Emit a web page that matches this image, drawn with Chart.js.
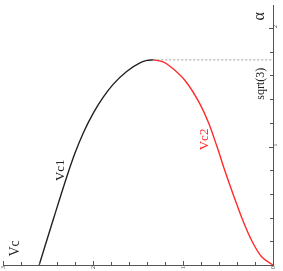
<!DOCTYPE html>
<html>
<head>
<meta charset="utf-8">
<script src="https://cdn.jsdelivr.net/npm/chart.js@4"></script>
<style>
  html, body { margin: 0; padding: 0; background: #fff; }
  #wrap { width: 283px; height: 271px; }
</style>
</head>
<body>
<div id="wrap"><canvas id="chart"></canvas></div>
<script>
// ===== DATA =====
// Vc1 branch: from alpha = 0 up to the meeting point at alpha = sqrt(3)
const vc1Values = [2.598, 2.439, 2.292, 2.2, 2.108, 1.997, 1.886, 1.774, 1.626, 1.478, 1.4, 1.33];
const vc1Alpha  = [0, 0.39, 0.743, 0.945, 1.115, 1.282, 1.417, 1.527, 1.634, 1.706, 1.727, 1.732];

// Vc2 branch: from the origin up to the same point
const vc2Values = [0, 0.126, 0.237, 0.347, 0.441, 0.53, 0.625, 0.715, 0.815, 0.975, 1.13, 1.22, 1.33];
const vc2Alpha  = [0, 0.069, 0.207, 0.399, 0.593, 0.785, 1.006, 1.198, 1.364, 1.556, 1.67, 1.715, 1.732];

// dashed guide at alpha = sqrt(3)
const guideVc    = [1.33, 0];
const guideAlpha = [1.732, 1.732];

const vcTickLabels    = ['0', '1', '2', '3'];
const alphaTickLabels = ['1', '2'];

// ===== helpers =====
function toPoints(xs, ys) {
  return xs.map(function(x, i) { return { x: x, y: ys[i] }; });
}

// text labels drawn on the plot (rotated like the whole figure)
const notes = [
  { text: 'α',       vc: 0.15,  alpha: 2.1,   size: 16, color: '#222' },
  { text: 'sqrt(3)', vc: 0.133, alpha: 1.53,  size: 12, color: '#222' },
  { text: 'Vc',      vc: 2.867, alpha: 0.14,  size: 14, color: '#222' },
  { text: 'Vc1',     vc: 2.36,  alpha: 0.8,   size: 13, color: '#222' },
  { text: 'Vc2',     vc: 0.76,  alpha: 1.06,  size: 13, color: '#ff2a2a' }
];

// small inward tick marks + rotated notes
const extrasPlugin = {
  id: 'extras',
  afterDraw: function(chart) {
    const ctx = chart.ctx;
    const xs = chart.scales.x;
    const ys = chart.scales.y;
    const area = chart.chartArea;

    ctx.save();
    ctx.strokeStyle = '#555';
    ctx.lineWidth = 1;
    // ticks every 0.2 on both axes
    for (let i = 0; i <= 15; i++) {
      const v = i * 0.2;
      const px = Math.round(xs.getPixelForValue(v)) + 0.5;
      const len = (i % 5 === 0) ? 4 : 3;
      ctx.beginPath();
      ctx.moveTo(px, area.bottom);
      ctx.lineTo(px, area.bottom - len);
      ctx.stroke();
    }
    for (let i = 0; i <= 10; i++) {
      const v = i * 0.2;
      const py = Math.round(ys.getPixelForValue(v)) + 0.5;
      const len = (i % 5 === 0) ? 4 : 3;
      ctx.beginPath();
      ctx.moveTo(area.right, py);
      ctx.lineTo(area.right - len, py);
      ctx.stroke();
    }

    // notes
    notes.forEach(function(n) {
      const px = xs.getPixelForValue(n.vc);
      const py = ys.getPixelForValue(n.alpha);
      ctx.save();
      ctx.translate(px, py);
      ctx.rotate(-Math.PI / 2);
      ctx.font = n.size + 'px "Liberation Serif", serif';
      ctx.fillStyle = n.color;
      ctx.textAlign = 'center';
      ctx.textBaseline = 'middle';
      ctx.fillText(n.text, 0, 0);
      ctx.restore();
    });
    ctx.restore();
  }
};

const ctx = document.getElementById('chart').getContext('2d');

new Chart(ctx, {
  type: 'scatter',
  data: {
    datasets: [
      {
        label: 'Vc1',
        data: toPoints(vc1Values, vc1Alpha),
        showLine: true,
        borderColor: '#222',
        borderWidth: 1.4,
        pointRadius: 0,
        cubicInterpolationMode: 'monotone',
        fill: false
      },
      {
        label: 'Vc2',
        data: toPoints(vc2Values, vc2Alpha),
        showLine: true,
        borderColor: '#ff2a2a',
        borderWidth: 1.4,
        pointRadius: 0,
        cubicInterpolationMode: 'monotone',
        fill: false
      },
      {
        label: 'sqrt(3)',
        data: toPoints(guideVc, guideAlpha),
        showLine: true,
        borderColor: '#aaa',
        borderWidth: 1.2,
        borderDash: [2, 2],
        pointRadius: 0,
        fill: false
      }
    ]
  },
  options: {
    responsive: true,
    maintainAspectRatio: false,
    animation: false,
    layout: { padding: { left: 3, top: 0, right: 0, bottom: 0 } },
    plugins: {
      legend: { display: false },
      tooltip: { enabled: false }
    },
    scales: {
      x: {
        type: 'linear',
        position: 'bottom',
        reverse: true,
        min: 0,
        max: 3,
        border: { display: true, color: '#555', width: 1 },
        grid: { display: false, drawOnChartArea: false, drawTicks: false },
        ticks: {
          stepSize: 1,
          padding: 1,
          minRotation: 90,
          maxRotation: 90,
          color: '#444',
          font: { size: 6, family: '"Liberation Serif", serif' },
          callback: function(v) {
            return vcTickLabels.includes(String(v)) ? String(v) : '';
          }
        },
        afterFit: function(scale) { scale.height = 6; }
      },
      y: {
        type: 'linear',
        position: 'right',
        min: 0,
        max: 2.19,
        border: { display: true, color: '#555', width: 1 },
        grid: { display: false, drawOnChartArea: false, drawTicks: false },
        ticks: {
          stepSize: 1,
          padding: 2,
          minRotation: 90,
          maxRotation: 90,
          color: '#444',
          font: { size: 6, family: '"Liberation Serif", serif' },
          callback: function(v) {
            return alphaTickLabels.includes(String(v)) ? String(v) : '';
          }
        },
        afterFit: function(scale) { scale.width = 10; }
      }
    }
  },
  plugins: [extrasPlugin]
});
</script>
</body>
</html>
